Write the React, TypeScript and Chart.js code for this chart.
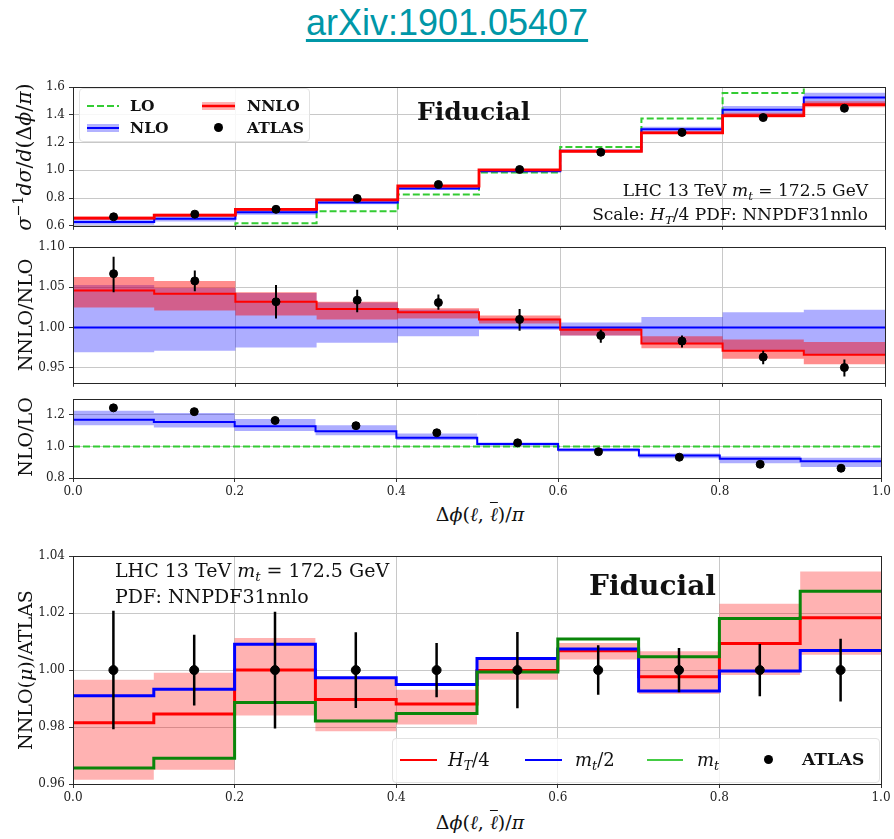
import React, { useEffect, useRef } from 'react';
import { Chart, registerables } from 'chart.js';
Chart.register(...registerables);

// ---------------- data ----------------
const binEdges = [0.0, 0.1, 0.2, 0.3, 0.4, 0.5, 0.6, 0.7, 0.8, 0.9, 1.0];
const binCenters = [0.05, 0.15, 0.25, 0.35, 0.45, 0.55, 0.65, 0.75, 0.85, 0.95];
const xTickValues = [0.0, 0.2, 0.4, 0.6, 0.8, 1.0];
const xTickLabels = ['0.0', '0.2', '0.4', '0.6', '0.8', '1.0'];

// panel 1: normalised distribution
const p1TickValues = [0.6, 0.8, 1.0, 1.2, 1.4, 1.6];
const p1TickLabels = ['0.6', '0.8', '1.0', '1.2', '1.4', '1.6'];
const loVals = [0.536, 0.563, 0.619, 0.705, 0.826, 0.984, 1.168, 1.375, 1.558, 1.682];
const nloVals = [0.627, 0.650, 0.697, 0.769, 0.870, 0.993, 1.141, 1.297, 1.437, 1.526];
const nloLow = [0.608, 0.631, 0.680, 0.755, 0.860, 0.990, 1.130, 1.270, 1.397, 1.476];
const nloHigh = [0.660, 0.682, 0.727, 0.793, 0.889, 1.004, 1.148, 1.314, 1.464, 1.560];
const nnloVals = [0.656, 0.677, 0.719, 0.787, 0.887, 1.003, 1.138, 1.271, 1.395, 1.474];
const nnloLow = [0.643, 0.664, 0.707, 0.777, 0.880, 0.998, 1.130, 1.263, 1.381, 1.455];
const nnloHigh = [0.667, 0.687, 0.727, 0.794, 0.891, 1.008, 1.142, 1.283, 1.415, 1.499];
const atlasVals = [0.665, 0.684, 0.719, 0.797, 0.898, 1.006, 1.131, 1.274, 1.381, 1.448];

// panel 2: NNLO / NLO
const p2TickValues = [0.95, 1.0, 1.05, 1.1];
const p2TickLabels = ['0.95', '1.00', '1.05', '1.10'];
const nloRefLine = [1, 1, 1, 1, 1, 1, 1, 1, 1, 1];
const nloRatioLow = [0.969, 0.971, 0.975, 0.981, 0.989, 0.997, 0.990, 0.979, 0.972, 0.967];
const nloRatioHigh = [1.053, 1.049, 1.043, 1.031, 1.022, 1.011, 1.006, 1.013, 1.019, 1.022];
const nnloRatio = [1.046, 1.042, 1.032, 1.023, 1.019, 1.010, 0.997, 0.980, 0.971, 0.966];
const nnloRatioLow = [1.025, 1.021, 1.015, 1.010, 1.011, 1.005, 0.990, 0.974, 0.961, 0.954];
const nnloRatioHigh = [1.063, 1.058, 1.044, 1.032, 1.024, 1.015, 1.001, 0.989, 0.985, 0.982];
const atlasOverNlo = [1.067, 1.058, 1.032, 1.034, 1.031, 1.010, 0.990, 0.983, 0.963, 0.950];
const atlasOverNloErrLow = [1.044, 1.045, 1.011, 1.019, 1.022, 0.996, 0.981, 0.975, 0.954, 0.939];
const atlasOverNloErrHigh = [1.088, 1.071, 1.053, 1.047, 1.041, 1.023, 0.997, 0.990, 0.971, 0.960];

// panel 3: NLO / LO
const p3TickValues = [0.8, 1.0, 1.2];
const p3TickLabels = ['0.8', '1.0', '1.2'];
const loRefLine = [1, 1, 1, 1, 1, 1, 1, 1, 1, 1];
const nloOverLo = [1.169, 1.155, 1.128, 1.097, 1.056, 1.015, 0.979, 0.942, 0.922, 0.907];
const nloOverLoLow = [1.134, 1.120, 1.099, 1.072, 1.041, 1.004, 0.967, 0.926, 0.893, 0.870];
const nloOverLoHigh = [1.227, 1.212, 1.175, 1.134, 1.082, 1.025, 0.988, 0.955, 0.938, 0.928];
const atlasOverLo = [1.245, 1.221, 1.165, 1.132, 1.087, 1.023, 0.967, 0.932, 0.887, 0.862];

// panel 4: NNLO(mu) / ATLAS
const p4TickValues = [0.96, 0.98, 1.0, 1.02, 1.04];
const p4TickLabels = ['0.96', '0.98', '1.00', '1.02', '1.04'];
const muHt4 = [0.9815, 0.9846, 1.0, 0.9897, 0.9881, 0.9999, 1.0068, 0.9977, 1.0093, 1.0184];
const muHt4Low = [0.9615, 0.965, 0.9841, 0.9785, 0.9809, 0.9966, 1.0037, 0.9916, 0.9983, 1.0054];
const muHt4High = [0.9966, 0.9991, 1.0113, 0.9975, 0.9931, 1.0037, 1.0095, 1.0066, 1.0233, 1.0346];
const muMt2 = [0.991, 0.9933, 1.0091, 0.9973, 0.9949, 1.0041, 1.0074, 0.9927, 0.9997, 1.0069];
const muMt = [0.9656, 0.969, 0.9886, 0.9821, 0.9848, 0.9993, 1.0109, 1.0047, 1.0181, 1.0277];
const atlasSelf = [1, 1, 1, 1, 1, 1, 1, 1, 1, 1];
const atlasSelfErrLow = [0.9792, 0.9876, 0.9795, 0.9867, 0.9905, 0.9866, 0.9913, 0.9922, 0.9908, 0.989];
const atlasSelfErrHigh = [1.0208, 1.0124, 1.0205, 1.0133, 1.0095, 1.0134, 1.0087, 1.0078, 1.0092, 1.011];

// ---------------- helpers ----------------
const RED = '#ff0000';
const BLUE = '#0000ff';
const LIME = '#33cc33';
const DKGREEN = '#0a850a';
const SERIF = '"DejaVu Serif", serif';

const step = (vals: number[]) => binEdges.map((x, i) => ({ x, y: vals[Math.min(i, vals.length - 1)] }));
const atCenters = (vals: number[]) => binCenters.map((x, i) => ({ x, y: vals[i] }));

function bandSets(lo: number[], hi: number[], color: string, order: number) {
  return [
    { data: step(lo), borderColor: 'rgba(0,0,0,0)', borderWidth: 0, pointRadius: 0, stepped: 'before', fill: false, order },
    { data: step(hi), borderColor: 'rgba(0,0,0,0)', borderWidth: 0, pointRadius: 0, stepped: 'before', fill: '-1', backgroundColor: color, order },
  ];
}
function stepLine(vals: number[], color: string, width: number, order: number, dash: number[] = []) {
  return { data: step(vals), borderColor: color, borderWidth: width, pointRadius: 0, stepped: 'before', fill: false, order, borderDash: dash, borderCapStyle: 'butt', borderJoinStyle: 'miter' };
}
function points(vals: number[], r: number, order: number) {
  return { data: atCenters(vals), showLine: false, pointRadius: r, pointHoverRadius: r, pointBackgroundColor: '#000', pointBorderColor: '#000', pointBorderWidth: 1, order };
}

const tickFont = { family: 'DejaVu Serif', size: 12 };
function makeScales(yMin: number, yMax: number, yTicks: number[], yLabels: string[], showX: boolean, xHeight: number) {
  const grid = { color: '#c8c8c8', lineWidth: 1, drawTicks: true, tickLength: 4, tickColor: '#333', tickWidth: 1 };
  return {
    x: {
      type: 'linear', min: 0, max: 1, grid, border: { display: false },
      afterBuildTicks: (s: any) => { s.ticks = xTickValues.map((v) => ({ value: v })); },
      afterFit: (s: any) => { s.height = xHeight; },
      ticks: { display: showX, autoSkip: false, maxRotation: 0, padding: 3, font: tickFont, color: '#222', callback: (_v: any, i: number) => xTickLabels[i] },
    },
    y: {
      type: 'linear', min: yMin, max: yMax, grid, border: { display: false },
      afterBuildTicks: (s: any) => { s.ticks = yTicks.map((v) => ({ value: v })); },
      afterFit: (s: any) => { s.width = 73; },
      ticks: { autoSkip: false, padding: 4, font: tickFont, color: '#222', callback: (_v: any, i: number) => yLabels[i] },
    },
  };
}

const framePlugin = {
  id: 'frame',
  afterDraw(chart: any) {
    const { ctx, chartArea: a } = chart;
    const l = Math.round(a.left), t = Math.round(a.top), r = Math.round(a.right), b = Math.round(a.bottom);
    ctx.save();
    ctx.strokeStyle = '#262626';
    ctx.lineWidth = 1;
    ctx.strokeRect(l + 0.5, t + 0.5, r - l, b - t);
    ctx.restore();
  },
};

function errorBars(lo: number[], hi: number[], width: number) {
  return {
    id: 'errbars',
    afterDatasetsDraw(chart: any) {
      const { ctx, scales } = chart;
      ctx.save();
      ctx.strokeStyle = '#000';
      ctx.lineWidth = width;
      ctx.beginPath();
      binCenters.forEach((c, i) => {
        const px = scales.x.getPixelForValue(c);
        ctx.moveTo(px, scales.y.getPixelForValue(lo[i]));
        ctx.lineTo(px, scales.y.getPixelForValue(hi[i]));
      });
      ctx.stroke();
      ctx.restore();
    },
  };
}

function baseOptions(padding: any, scales: any) {
  return {
    responsive: false, animation: false, events: [],
    layout: { padding },
    plugins: { legend: { display: false }, tooltip: { enabled: false } },
    scales,
  };
}

function config1(): any {
  return {
    type: 'line',
    data: {
      datasets: [
        ...bandSets(nloLow, nloHigh, 'rgba(0,0,255,0.32)', 10),
        ...bandSets(nnloLow, nnloHigh, 'rgba(255,0,0,0.4)', 9),
        stepLine(loVals, LIME, 2, 3, [7, 3]),
        stepLine(nloVals, BLUE, 2, 2),
        stepLine(nnloVals, RED, 2.8, 1),
        points(atlasVals, 4, 0),
      ],
    },
    options: baseOptions({ left: 0, right: 9, top: 10, bottom: 0 }, makeScales(0.6, 1.6, p1TickValues, p1TickLabels, false, 8)),
    plugins: [framePlugin],
  };
}
function config2(): any {
  return {
    type: 'line',
    data: {
      datasets: [
        ...bandSets(nloRatioLow, nloRatioHigh, 'rgba(0,0,255,0.32)', 10),
        ...bandSets(nnloRatioLow, nnloRatioHigh, 'rgba(255,0,0,0.45)', 9),
        stepLine(nloRefLine, BLUE, 2, 2),
        stepLine(nnloRatio, RED, 2, 1),
        points(atlasOverNlo, 4, 0),
      ],
    },
    options: baseOptions({ left: 0, right: 9, top: 8, bottom: 0 }, makeScales(0.931, 1.1, p2TickValues, p2TickLabels, false, 8)),
    plugins: [framePlugin, errorBars(atlasOverNloErrLow, atlasOverNloErrHigh, 2)],
  };
}
function config3(): any {
  return {
    type: 'line',
    data: {
      datasets: [
        ...bandSets(nloOverLoLow, nloOverLoHigh, 'rgba(0,0,255,0.32)', 10),
        stepLine(loRefLine, LIME, 2, 3, [7, 3]),
        stepLine(nloOverLo, BLUE, 2, 2),
        points(atlasOverLo, 4, 0),
      ],
    },
    options: baseOptions({ left: 0, right: 9, top: 8, bottom: 0 }, makeScales(0.8, 1.3, p3TickValues, p3TickLabels, true, 24)),
    plugins: [framePlugin],
  };
}
function config4(): any {
  return {
    type: 'line',
    data: {
      datasets: [
        ...bandSets(muHt4Low, muHt4High, 'rgba(255,0,0,0.3)', 10),
        stepLine(muHt4, RED, 3, 3),
        stepLine(muMt2, BLUE, 3, 2),
        stepLine(muMt, DKGREEN, 3, 1),
        points(atlasSelf, 4.5, 0),
      ],
    },
    options: baseOptions({ left: 0, right: 13, top: 8, bottom: 0 }, makeScales(0.96, 1.04, p4TickValues, p4TickLabels, true, 24)),
    plugins: [framePlugin, errorBars(atlasSelfErrLow, atlasSelfErrHigh, 2.5)],
  };
}

// ---------------- text helpers ----------------
function Txt(props: { x: number; y: number; size: number; children: any; bold?: boolean; italic?: boolean; align?: string; color?: string }) {
  const { x, y, size, children, bold, italic, align = 'left', color = '#111' } = props;
  const style: any = {
    position: 'absolute', top: y - size / 2, lineHeight: size + 'px', fontSize: size, fontFamily: SERIF,
    fontWeight: bold ? 'bold' : 'normal', fontStyle: italic ? 'italic' : 'normal', whiteSpace: 'nowrap', color,
  };
  if (align === 'left') style.left = x;
  else if (align === 'right') style.right = 894 - x;
  else { style.left = x; style.transform = 'translateX(-50%)'; }
  return <div style={style}>{children}</div>;
}
function VTxt(props: { x: number; y: number; size: number; children: any }) {
  const { x, y, size, children } = props;
  return (
    <div style={{ position: 'absolute', left: x, top: y, transform: 'translate(-50%,-50%) rotate(-90deg)', fontFamily: SERIF, fontSize: size, lineHeight: size + 'px', whiteSpace: 'nowrap', color: '#111' }}>
      {children}
    </div>
  );
}
const I = (p: { children: any }) => <span style={{ fontStyle: 'italic' }}>{p.children}</span>;
const Sub = (p: { children: any }) => <span style={{ fontSize: '0.7em', verticalAlign: '-0.3em', lineHeight: 0 }}>{p.children}</span>;
const Sup = (p: { children: any }) => <span style={{ fontSize: '0.7em', verticalAlign: '0.55em', lineHeight: 0 }}>{p.children}</span>;

function Sample(props: { x1: number; x2: number; y: number; color: string; width: number; dash?: string; band?: string }) {
  const { x1, x2, y, color, width, dash, band } = props;
  const w = x2 - x1;
  return (
    <svg style={{ position: 'absolute', left: x1, top: y - 6 }} width={w} height={12}>
      {band ? <rect x={0} y={2} width={w} height={8} fill={band} /> : null}
      <line x1={0} y1={6} x2={w} y2={6} stroke={color} strokeWidth={width} strokeDasharray={dash} />
    </svg>
  );
}
function Dot(props: { x: number; y: number; r: number }) {
  const { x, y, r } = props;
  return (
    <svg style={{ position: 'absolute', left: x - r - 1, top: y - r - 1 }} width={2 * r + 2} height={2 * r + 2}>
      <circle cx={r + 1} cy={r + 1} r={r} fill="#000" />
    </svg>
  );
}

const xTitle = (
  <span>
    Δ<I>ϕ</I>(<I>ℓ</I>, <span style={{ fontStyle: 'italic', textDecoration: 'overline', textDecorationThickness: '1px' }}>ℓ</span>)/<I>π</I>
  </span>
);

export default function App() {
  const r1 = useRef<HTMLCanvasElement>(null);
  const r2 = useRef<HTMLCanvasElement>(null);
  const r3 = useRef<HTMLCanvasElement>(null);
  const r4 = useRef<HTMLCanvasElement>(null);

  useEffect(() => {
    const charts = [
      new Chart(r1.current as HTMLCanvasElement, config1()),
      new Chart(r2.current as HTMLCanvasElement, config2()),
      new Chart(r3.current as HTMLCanvasElement, config3()),
      new Chart(r4.current as HTMLCanvasElement, config4()),
    ];
    return () => charts.forEach((c) => c.destroy());
  }, []);

  const cv = (top: number, h: number, ref: any) => (
    <canvas ref={ref} width={894} height={h} style={{ position: 'absolute', left: 0, top, width: 894, height: h }} />
  );

  return (
    <div style={{ position: 'absolute', left: 0, top: 0, width: 894, height: 839, background: '#fff', overflow: 'hidden' }}>
      {cv(76, 161, r1)}
      {cv(236, 158, r2)}
      {cv(388, 114, r3)}
      {cv(545, 263, r4)}

      {/* title */}
      <div style={{ position: 'absolute', left: 0, top: 5, width: 894, textAlign: 'center', fontFamily: '"Liberation Sans", Arial, sans-serif', fontSize: 36, lineHeight: '36px', color: '#0097a7', textDecoration: 'underline', textDecorationThickness: '3px', textUnderlineOffset: '4px' }}>
        arXiv:1901.05407
      </div>

      {/* panel 1 legend */}
      <div style={{ position: 'absolute', left: 79, top: 88, width: 231, height: 54, background: 'rgba(255,255,255,0.85)', border: '1px solid #e2e2e2', borderRadius: 4, boxSizing: 'border-box' }} />
      <Sample x1={87} x2={119} y={106} color={LIME} width={2} dash="7 3" />
      <Txt x={130} y={106} size={15.5} bold>LO</Txt>
      <Sample x1={87} x2={119} y={127.5} color={BLUE} width={2} band="rgba(0,0,255,0.3)" />
      <Txt x={130} y={127.5} size={15.5} bold>NLO</Txt>
      <Sample x1={202} x2={235} y={106} color={RED} width={2.5} band="rgba(255,0,0,0.3)" />
      <Txt x={247} y={106} size={15.5} bold>NNLO</Txt>
      <Dot x={218.5} y={127.5} r={4.5} />
      <Txt x={247} y={127.5} size={15.5} bold>ATLAS</Txt>

      {/* panel 1 texts */}
      <Txt x={417} y={111} size={25} bold>Fiducial</Txt>
      <Txt x={868} y={190} size={17} align="right">LHC 13 TeV <I>m</I><Sub><I>t</I></Sub> = 172.5 GeV</Txt>
      <Txt x={868} y={214} size={17} align="right">Scale: <I>H</I><Sub><I>T</I></Sub>/4 PDF: NNPDF31nnlo</Txt>

      {/* y titles */}
      <VTxt x={24} y={157} size={20.5}><I>σ</I><Sup>−1</Sup><I>dσ</I>/<I>d</I>(Δ<I>ϕ</I>/<I>π</I>)</VTxt>
      <VTxt x={25} y={315} size={19}>NNLO/NLO</VTxt>
      <VTxt x={25} y={437} size={19}>NLO/LO</VTxt>
      <VTxt x={25} y={670} size={19}>NNLO(<I>μ</I>)/ATLAS</VTxt>

      {/* x titles */}
      <Txt x={480} y={514} size={19} align="center">{xTitle}</Txt>
      <Txt x={480} y={822} size={19} align="center">{xTitle}</Txt>

      {/* panel 4 texts */}
      <Txt x={115} y={570} size={19}>LHC 13 TeV <I>m</I><Sub><I>t</I></Sub> = 172.5 GeV</Txt>
      <Txt x={115} y={596.5} size={19}>PDF: NNPDF31nnlo</Txt>
      <Txt x={589} y={585.5} size={28} bold>Fiducial</Txt>

      {/* panel 4 legend */}
      <div style={{ position: 'absolute', left: 392, top: 738, width: 488, height: 45, background: 'rgba(255,255,255,0.8)', border: '1px solid #e2e2e2', borderRadius: 4, boxSizing: 'border-box' }} />
      <Sample x1={400} x2={437} y={759.5} color={RED} width={2} />
      <Txt x={448} y={759.5} size={18}><I>H</I><Sub><I>T</I></Sub>/4</Txt>
      <Sample x1={525} x2={562} y={759.5} color={BLUE} width={2} />
      <Txt x={575} y={759.5} size={18}><I>m</I><Sub><I>t</I></Sub>/2</Txt>
      <Sample x1={647} x2={683} y={759.5} color="#44cc44" width={2} />
      <Txt x={697} y={759.5} size={18}><I>m</I><Sub><I>t</I></Sub></Txt>
      <Dot x={768.5} y={759.5} r={4.5} />
      <Txt x={802} y={759.5} size={17} bold>ATLAS</Txt>
    </div>
  );
}
